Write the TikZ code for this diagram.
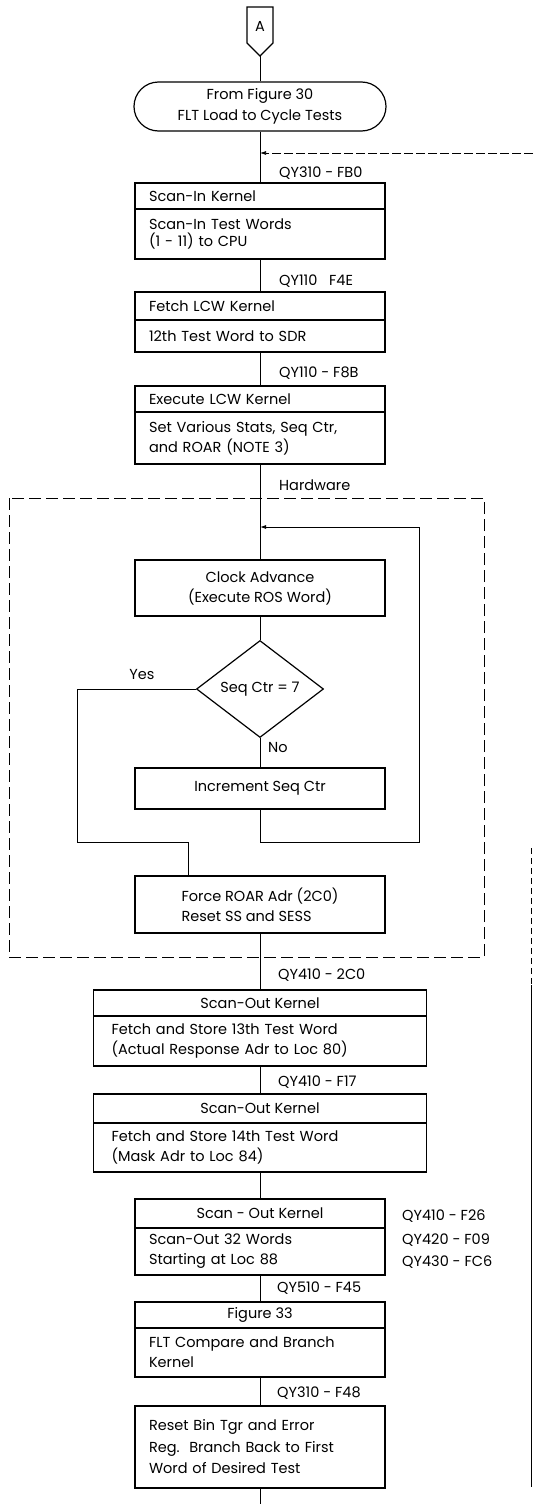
\documentclass[tikz,border=0pt]{standalone}
\usepackage{fontspec}
\setmainfont{Poppins}
\usetikzlibrary{arrows.meta,shapes.geometric,shapes.misc}
\begin{document}
\begin{tikzpicture}[x=1pt,y=-1pt,
  font=\fontsize{14.5}{20}\selectfont,
  every node/.style={inner sep=0pt},
  box/.style={draw, line width=1.2pt, rectangle},
  nb/.style={box, text width=222pt, inner xsep=14pt, align=left},
  nbc/.style={box, minimum width=250pt, align=center},
  wb/.style={box, text width=297pt, inner xsep=18pt, align=left},
  wbc/.style={box, minimum width=333pt, align=center},
  term/.style={draw, line width=1.2pt, rounded rectangle, minimum width=252pt, minimum height=49pt, align=center},
  dec/.style={draw, line width=1.2pt, diamond, aspect=1.4, minimum width=127pt, minimum height=97pt},
  conn/.style={line width=0.9pt},
  arr/.style={conn, -{Latex[length=6pt,width=4pt]}},
  retline/.style={line width=0.7pt, dash pattern=on 9pt off 3pt, -{Latex[length=6pt,width=4pt]}},
  hwbox/.style={line width=0.9pt, dash pattern=on 12pt off 5pt},
  lbl/.style={anchor=west, inner sep=0pt, text height=10pt, text depth=0pt}
]
\useasboundingbox (0,0) rectangle (533,1504);

% off-page connector A
\draw[box] (247,7) -- (273,7) -- (273,43) -- (260,56) -- (247,43) -- cycle;
\node (conA) at (260,26) {A};
\coordinate (conAtip) at (260,56);

\node[term, font=\fontsize{14.5}{21}\selectfont] (term) at (260,106.5) {From Figure 30\\FLT Load to Cycle Tests};

\node[nb, minimum height=26pt] (b1h) at (260,196) {Scan-In Kernel};
\node[nb, minimum height=50pt, font=\fontsize{14.5}{17.5}\selectfont] (b1b) at (260,234) {Scan-In Test Words\\(1 - 11) to CPU};
\node[nb, minimum height=28pt] (b2h) at (260,306) {Fetch LCW Kernel};
\node[nb, minimum height=32pt] (b2b) at (260,336) {12th Test Word to SDR};
\node[nb, minimum height=26pt] (b3h) at (260,399) {Execute LCW Kernel};
\node[nb, minimum height=52pt] (b3b) at (260,438) {Set Various Stats, Seq Ctr,\\and ROAR (NOTE 3)};

% hardware dashed region
\draw[hwbox] (9,498) rectangle (484,957);

\node[nbc, minimum height=56pt] (clock) at (260,588) {Clock Advance\\(Execute ROS Word)};
\node[dec] (dia) at (260,689) {Seq Ctr = 7};
\node[nbc, minimum height=41pt] (incr) at (260,788.5) {Increment Seq Ctr};
\node[box, minimum width=250pt, minimum height=57pt, align=left] (force) at (260,904.5) {Force ROAR Adr (2C0)\\Reset SS and SESS};

\node[wbc, minimum height=26pt] (so1h) at (260,1003) {Scan-Out Kernel};
\node[wb, minimum height=50pt] (so1b) at (260,1041) {Fetch and Store 13th Test Word\\(Actual Response Adr to Loc 80)};
\node[wbc, minimum height=29pt] (so2h) at (260,1108.5) {Scan-Out Kernel};
\node[wb, minimum height=49pt] (so2b) at (260,1147.5) {Fetch and Store 14th Test Word\\(Mask Adr to Loc 84)};
\node[nbc, minimum height=29pt] (so3h) at (260,1213.5) {Scan - Out Kernel};
\node[nb, minimum height=47pt] (so3b) at (260,1251.5) {Scan-Out 32 Words\\Starting at Loc 88};
\node[nbc, minimum height=26pt] (f33h) at (260,1315) {Figure 33};
\node[nb, minimum height=49pt] (f33b) at (260,1352.5) {FLT Compare and Branch\\Kernel};
\node[nb, minimum height=82pt, font=\fontsize{14.5}{21.5}\selectfont] (fin) at (260,1447) {Reset Bin Tgr and Error\\Reg.\ \ Branch Back to First\\Word of Desired Test};

% labels
\node[lbl] (l1) at (279,172) {QY310 - FB0};
\node[lbl] (l2) at (279,280) {QY110\ \ \ F4E};
\node[lbl] (l3) at (279,372) {QY110 - F8B};
\node[lbl] (l4) at (279,485) {Hardware};
\node (lyes) at (142,675) {Yes};
\node[lbl] (lno) at (268,747) {No};
\node[lbl] (l5) at (278,974) {QY410 - 2C0};
\node[lbl] (l6) at (278,1081) {QY410 - F17};
\node[lbl] (l7) at (402,1215) {QY410 - F26};
\node[lbl] (l8) at (402,1239) {QY420 - F09};
\node[lbl] (l9) at (402,1261) {QY430 - FC6};
\node[lbl] (l10) at (277,1287) {QY510 - F45};
\node[lbl] (l11) at (277,1392) {QY310 - F48};

% main flow connectors
\draw[conn] (conAtip) -- (term.north);
\draw[conn] (term.south) -- (b1h.north);
\draw[conn] (b1b.south) -- (b2h.north);
\draw[conn] (b2b.south) -- (b3h.north);
\draw[conn] (b3b.south) -- (clock.north);
\draw[conn] (clock.south) -- (dia.north);
\draw[conn] (dia.south) -- (incr.north);
\draw[conn] (force.south) -- (so1h.north);
\draw[conn] (so1b.south) -- (so2h.north);
\draw[conn] (so2b.south) -- (so3h.north);
\draw[conn] (so3b.south) -- (f33h.north);
\draw[conn] (f33b.south) -- (fin.north);
\coordinate (bot) at (260,1504);
\draw[conn] (fin.south) -- (bot);

% return entry at top
\coordinate (rin) at (533,153);
\draw[retline] (rin) -- (rin -| term.south);

% loop: increment back to clock advance
\coordinate (lpb) at (419,842);
\coordinate (lpt) at (419,527);
\draw[arr] (incr.south) |- (lpb) -- (lpt) -- (lpt -| clock.north);

% yes branch
\coordinate (yl) at (77,689);
\coordinate (yb) at (77,842);
\coordinate (yj) at (188,842);
\draw[conn] (dia.west) -- (yl) -- (yb) -- (yj) -- (yj |- force.north);

% right-edge return line
\coordinate (re1) at (531,848);
\coordinate (re2) at (531,985);
\coordinate (re3) at (531,1487);
\draw[line width=0.5pt, dash pattern=on 6pt off 4pt] (re1) -- (re2);
\draw[line width=0.8pt] (re2) -- (re3);
\end{tikzpicture}
\end{document}
